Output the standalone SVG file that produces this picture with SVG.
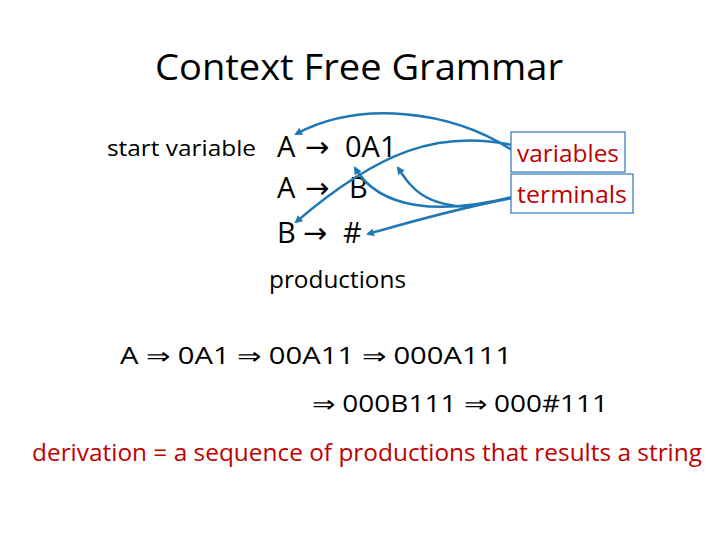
<svg xmlns="http://www.w3.org/2000/svg" width="720" height="540" viewBox="0 0 720 540" xml:space="preserve">
<style>
text{font-family:"Open Sans","Liberation Sans",sans-serif;fill:#000}
.ar{font-family:"DejaVu Sans",sans-serif}
.r{fill:#c00000}
.c{fill:none;stroke:#1f78b4;stroke-width:2.5;marker-end:url(#a)}
.b{fill:#fff;stroke:#2e75b6;stroke-width:1.2}
</style>
<defs><marker id="a" markerWidth="8" markerHeight="8" refX="6" refY="4" orient="auto" markerUnits="userSpaceOnUse"><path d="M0,0L8,4L0,8z" fill="#1f78b4"/></marker></defs>
<rect width="720" height="540" fill="#fff"/>
<text x="155" y="80" font-size="36" textLength="408" lengthAdjust="spacingAndGlyphs">Context Free Grammar</text>
<g id="start"><text x="107" y="156" font-size="22" textLength="149" lengthAdjust="spacingAndGlyphs">start variable</text></g>
<g id="rules" font-size="29">
<text x="277" y="157">A</text><text class="ar" x="305" y="157">→</text><text x="345" y="157">0A1</text>
<text x="277" y="198">A</text><text class="ar" x="305" y="198">→</text><text x="349" y="198">B</text>
<text x="277" y="243">B</text><text class="ar" x="303" y="243">→</text><text x="343" y="243">#</text>
</g>
<g id="connectors">
<path class="c" d="M512,150 C450,110 360,100 296,134"/>
<path class="c" d="M512,145 C440,130 380,150 296,222"/>
<path class="c" d="M512,197 C440,215 380,210 355,168"/>
<path class="c" d="M512,198 C450,210 400,225 368,234"/>
<path class="c" d="M470,207 C420,205 410,185 398,168"/>
</g>
<g id="variables"><rect class="b" x="511" y="132" width="114" height="40"/><text class="r" x="517" y="162" font-size="23" textLength="102" lengthAdjust="spacingAndGlyphs">variables</text></g>
<g id="terminals"><rect class="b" x="511" y="174" width="122" height="39"/><text class="r" x="517" y="203" font-size="23" textLength="110" lengthAdjust="spacingAndGlyphs">terminals</text></g>
<g id="productions"><text x="269" y="288" font-size="23" textLength="137" lengthAdjust="spacingAndGlyphs">productions</text></g>
<g id="derivation" font-size="23">
<text x="120" y="364" textLength="392" lengthAdjust="spacingAndGlyphs">A  ⇒ 0A1  ⇒ 00A11   ⇒ 000A111</text>
<text x="312" y="412" textLength="296" lengthAdjust="spacingAndGlyphs">⇒ 000B111    ⇒ 000#111</text>
</g>
<text class="r" x="32" y="461" font-size="23" textLength="670" lengthAdjust="spacingAndGlyphs">derivation = a sequence of productions that results a string</text>
</svg>
